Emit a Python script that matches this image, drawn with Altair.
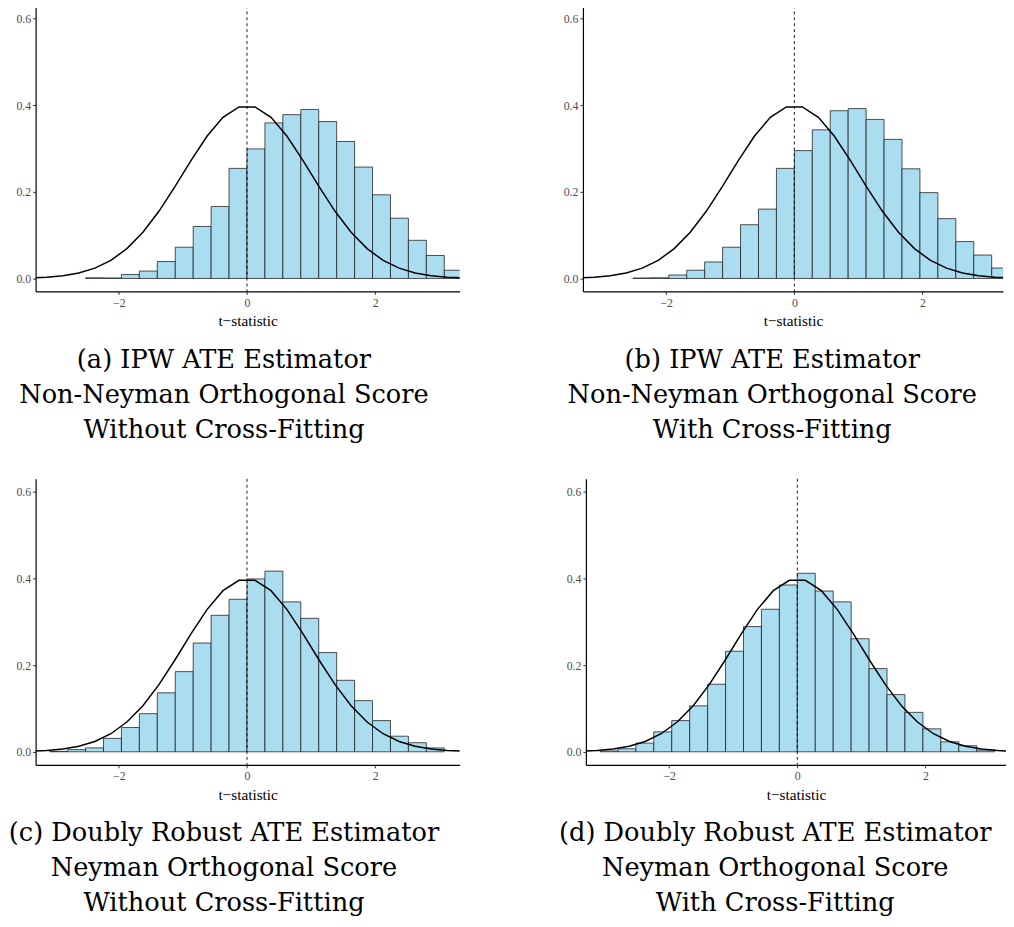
import altair as alt
import pandas as pd

# ---- data ----
bin_starts = [-3.08, -2.80, -2.52, -2.24, -1.96, -1.68, -1.40, -1.12, -0.84, -0.56,
              -0.28, 0.00, 0.28, 0.56, 0.84, 1.12, 1.40, 1.68, 1.96, 2.24, 2.52, 2.80, 3.08]
bin_width = 0.28

density_a = [0, 0, 0.0015, 0.001, 0.009, 0.017, 0.039, 0.072, 0.120, 0.166, 0.254, 0.299,
             0.359, 0.378, 0.390, 0.362, 0.316, 0.257, 0.193, 0.139, 0.088, 0.053, 0.019]
density_b = [0, 0, 0.001, 0.0015, 0.008, 0.019, 0.038, 0.072, 0.124, 0.160, 0.254, 0.295,
             0.343, 0.387, 0.392, 0.367, 0.321, 0.253, 0.198, 0.138, 0.085, 0.054, 0.024]
density_c = [0.001, 0.005, 0.009, 0.031, 0.056, 0.088, 0.136, 0.185, 0.251, 0.315, 0.352, 0.399,
             0.417, 0.346, 0.308, 0.229, 0.165, 0.118, 0.072, 0.036, 0.021, 0.009, 0]
density_d = [0.002, 0.007, 0.020, 0.046, 0.072, 0.106, 0.156, 0.232, 0.289, 0.329, 0.385, 0.412,
             0.371, 0.346, 0.261, 0.192, 0.132, 0.091, 0.053, 0.023, 0.014, 0.004, 0]

# reference N(0,1) curve as drawn (vertices every 0.25)
curve_x = [-3.375, -3.125, -2.875, -2.625, -2.375, -2.125, -1.875, -1.625, -1.375, -1.125,
           -0.875, -0.625, -0.375, -0.125, 0.125, 0.375, 0.625, 0.875, 1.125, 1.375,
           1.625, 1.875, 2.125, 2.375, 2.625, 2.875, 3.125, 3.375]
curve_y = [0.0013, 0.0030, 0.0064, 0.0127, 0.0238, 0.0417, 0.0688, 0.1065, 0.1550, 0.2119,
           0.2721, 0.3282, 0.3719, 0.3958, 0.3958, 0.3719, 0.3282, 0.2721, 0.2119, 0.1550,
           0.1065, 0.0688, 0.0417, 0.0238, 0.0127, 0.0064, 0.0030, 0.0013]

captions = {
    "a": ["(a) IPW ATE Estimator", "Non-Neyman Orthogonal Score", "Without Cross-Fitting"],
    "b": ["(b) IPW ATE Estimator", "Non-Neyman Orthogonal Score", "With Cross-Fitting"],
    "c": ["(c) Doubly Robust ATE Estimator", "Neyman Orthogonal Score", "Without Cross-Fitting"],
    "d": ["(d) Doubly Robust ATE Estimator", "Neyman Orthogonal Score", "With Cross-Fitting"],
}

x_ticks = [-2, 0, 2]
y_ticks = [0.0, 0.2, 0.4, 0.6]
x_title = "t\u2212statistic"

curve_df = pd.DataFrame({"cx": curve_x, "cy": curve_y})

SERIF = "Liberation Serif"
CAPFONT = "DejaVu Serif"


def panel(dens, caption, xmax, width, dx):
    df = pd.DataFrame({"x0": bin_starts, "density": dens})
    df = df[df["density"] > 0].copy()
    df["x1"] = df["x0"] + bin_width
    df["base"] = 0.0
    xs = alt.Scale(domain=[-3.3, xmax], nice=False, zero=False)
    ys = alt.Scale(domain=[-0.03, 0.63], nice=False, zero=False)
    bars = alt.Chart(df).mark_rect(
        fill="#ABDDF1", stroke="#1a1a1a", strokeWidth=0.9, strokeOpacity=0.85, clip=True
    ).encode(
        x=alt.X("x0:Q", scale=xs,
                axis=alt.Axis(values=x_ticks, title=x_title, format="d")),
        x2="x1:Q",
        y=alt.Y("density:Q", scale=ys,
                axis=alt.Axis(values=y_ticks, format=".1f", title=None)),
        y2="base:Q",
    )
    curve = alt.Chart(curve_df).mark_line(
        color="black", strokeWidth=1.5, clip=True
    ).encode(x=alt.X("cx:Q", scale=xs), y=alt.Y("cy:Q", scale=ys))
    vline = alt.Chart(pd.DataFrame({"v": [0]})).mark_rule(
        color="black", strokeWidth=0.9, strokeDash=[3, 3]
    ).encode(x=alt.X("v:Q", scale=xs))
    return alt.layer(bars, curve, vline).properties(
        width=width, height=290,
        title=alt.TitleParams(
            text=caption, orient="bottom", anchor="middle", frame="group",
            font=CAPFONT, fontSize=26, fontWeight="normal", color="black",
            lineHeight=35.5, offset=18, dx=dx, baseline="top",
        ),
    )


pa = panel(density_a, captions["a"], 3.32, 430, -24)
pb = panel(density_b, captions["b"], 3.257, 426, -21)
pc = panel(density_c, captions["c"], 3.32, 430, -24)
pd_ = panel(density_d, captions["d"], 3.257, 426, -21)

row1 = alt.hconcat(pa, pb, spacing=100)
row2 = alt.hconcat(pc, pd_, spacing=100)

chart = alt.vconcat(row1, row2, spacing=35).properties(
    padding={"top": -10, "left": 0, "right": 0, "bottom": 0}
).configure_view(stroke=None).configure_axis(
    grid=False,
    domainColor="black", domainWidth=1.2,
    tickColor="#333333", tickSize=3, tickWidth=1,
    labelFont=SERIF, labelFontSize=12, labelColor="#4D4D4D", labelPadding=3,
    titleFont=SERIF, titleFontSize=15.5, titleFontWeight="normal", titleColor="black",
    titlePadding=6,
).configure_axisY(minExtent=25, maxExtent=25, labelPadding=2)

chart.save("out.html", embed_options={"renderer": "svg", "actions": False})
